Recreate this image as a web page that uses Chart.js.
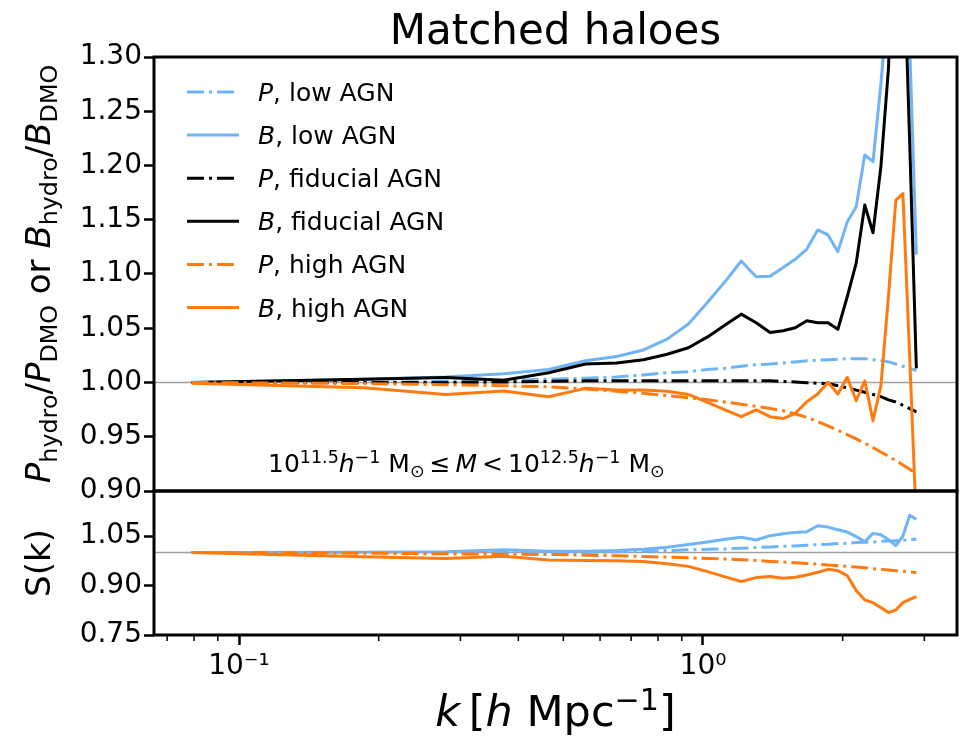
<!DOCTYPE html>
<html>
<head>
<meta charset="utf-8">
<script src="https://cdn.jsdelivr.net/npm/chart.js@4.4.1/dist/chart.umd.min.js"></script>
<style>
    html, body { margin: 0; padding: 0; background: #fff; }
</style>
</head>
<body>
<canvas id="haloChart" width="965" height="736"></canvas>
<script>
// k bins [h/Mpc]
const kValues = [0.079, 0.186, 0.279, 0.372, 0.465, 0.558, 0.651, 0.744, 0.837, 0.930,
    1.023, 1.116, 1.209, 1.302, 1.395, 1.488, 1.581, 1.674, 1.767, 1.860,
    1.953, 2.046, 2.139, 2.232, 2.325, 2.418, 2.511, 2.604, 2.697, 2.790, 2.883];

// top panel: hydro / DMO ratios
const pLow = [1.000, 1.000, 1.001, 1.002, 1.003, 1.004, 1.005, 1.007, 1.009, 1.010,
    1.012, 1.013, 1.015, 1.0165, 1.017, 1.018, 1.019, 1.020, 1.0205, 1.021,
    1.0215, 1.022, 1.022, 1.022, 1.021, 1.020, 1.019, 1.017, 1.015, 1.013, 1.011];
const bLow = [1.000, 1.003, 1.005, 1.008, 1.012, 1.020, 1.024, 1.030, 1.040, 1.054,
    1.074, 1.093, 1.112, 1.0975, 1.098, 1.106, 1.1135, 1.123, 1.1406, 1.136,
    1.1206, 1.148, 1.162, 1.2097, 1.2035, 1.275, 1.36, 1.60, 1.55, 1.31, 1.118];
const pFid = [1.000, 1.000, 1.000, 1.0005, 1.001, 1.0015, 1.0015, 1.0015, 1.0015, 1.0015,
    1.0015, 1.0015, 1.0015, 1.0015, 1.0015, 1.001, 1.0005, 0.9998, 0.9993, 0.999,
    0.997, 0.995, 0.993, 0.991, 0.989, 0.987, 0.984, 0.982, 0.979, 0.976, 0.973];
const bFid = [1.000, 1.003, 1.0045, 1.002, 1.009, 1.017, 1.018, 1.021, 1.026, 1.032,
    1.042, 1.053, 1.063, 1.055, 1.046, 1.0477, 1.0505, 1.057, 1.055, 1.055,
    1.049, 1.079, 1.110, 1.1636, 1.138, 1.199, 1.29, 1.50, 1.42, 1.22, 1.013];
const pHigh = [1.000, 0.999, 0.998, 0.997, 0.996, 0.994, 0.992, 0.990, 0.988, 0.986,
    0.984, 0.982, 0.980, 0.978, 0.976, 0.974, 0.971, 0.968, 0.964, 0.960,
    0.956, 0.952, 0.948, 0.944, 0.940, 0.936, 0.932, 0.928, 0.924, 0.920, 0.916];
const bHigh = [0.9993, 0.9952, 0.989, 0.9922, 0.9869, 0.9946, 0.993, 0.993, 0.992, 0.989,
    0.9816, 0.9748, 0.9685, 0.9747, 0.9685, 0.9668, 0.9716, 0.9823, 0.9894, 1.0002,
    0.9894, 1.0048, 0.9832, 1.0016, 0.9648, 0.997, 1.08, 1.168, 1.174, 1.022, 0.87];

// bottom panel: S(k)
const sPLow = [1.000, 1.000, 1.000, 1.000, 1.000, 1.000, 1.002, 1.005, 1.006, 1.008,
    1.010, 1.011, 1.013, 1.015, 1.017, 1.019, 1.020, 1.022, 1.024, 1.025,
    1.027, 1.028, 1.030, 1.031, 1.032, 1.034, 1.035, 1.036, 1.037, 1.039, 1.040];
const sBLow = [1.000, 1.001, 1.002, 1.008, 1.004, 1.004, 1.006, 1.010, 1.016, 1.024,
    1.032, 1.040, 1.046, 1.038, 1.051, 1.057, 1.061, 1.063, 1.081, 1.077,
    1.069, 1.062, 1.048, 1.033, 1.058, 1.054, 1.039, 1.021, 1.050, 1.113, 1.101];
const sPHigh = [1.000, 0.998, 0.996, 0.995, 0.994, 0.992, 0.990, 0.988, 0.986, 0.984,
    0.982, 0.980, 0.978, 0.976, 0.973, 0.971, 0.969, 0.967, 0.965, 0.962,
    0.960, 0.958, 0.956, 0.954, 0.951, 0.949, 0.947, 0.945, 0.943, 0.941, 0.939];
const sBHigh = [1.000, 0.987, 0.982, 0.989, 0.977, 0.976, 0.975, 0.973, 0.966, 0.958,
    0.942, 0.926, 0.912, 0.924, 0.927, 0.922, 0.925, 0.932, 0.940, 0.949,
    0.945, 0.930, 0.885, 0.856, 0.848, 0.833, 0.818, 0.826, 0.848, 0.858, 0.866];

// ticks
const xMajorTicks = [0.1, 1];
const xTickLabels = ['10\u207B\u00B9', '10\u2070'];
const xMinorTicks = [0.07, 0.08, 0.09, 0.2, 0.3, 0.4, 0.5, 0.6, 0.7, 0.8, 0.9, 2, 3];
const topTicks = [0.90, 0.95, 1.00, 1.05, 1.10, 1.15, 1.20, 1.25, 1.30];
const botTicks = [0.75, 0.90, 1.05];

const FONT = '"DejaVu Sans", sans-serif';
const BLUE = '#6fb4f6';
const ORANGE = '#ff7b0f';
const DASHDOT = [17, 5, 3, 5];

function pts(values) {
    return values.map((v, i) => ({ x: kValues[i], y: v }));
}

function line(label, values, color, dashed, axis, idx) {
    return {
        label: label,
        data: pts(values),
        yAxisID: axis,
        borderColor: color,
        backgroundColor: color,
        borderWidth: 3,
        borderDash: dashed ? DASHDOT : [],
        borderJoinStyle: 'round',
        pointRadius: 0,
        tension: 0,
        fill: false,
        order: -idx
    };
}

// text with italic / super / subscript parts: [text, italic, shift]
function partFont(p, size) {
    return (p[1] ? 'italic ' : '') + (p[2] ? size * 0.7 : size) + 'px ' + FONT;
}
function drawRich(ctx, parts, x, y, size, align) {
    let w = 0;
    parts.forEach(p => { ctx.font = partFont(p, size); w += ctx.measureText(p[0]).width; });
    let cx = align === 'center' ? x - w / 2 : x;
    ctx.textAlign = 'left';
    ctx.textBaseline = 'alphabetic';
    parts.forEach(p => {
        ctx.font = partFont(p, size);
        const dy = p[2] === 1 ? -size * 0.38 : (p[2] === -1 ? size * 0.2 : 0);
        ctx.fillText(p[0], cx, y + dy);
        cx += ctx.measureText(p[0]).width;
    });
}

const yLabelParts = [['P', 1, 0], ['hydro', 0, -1], ['/', 0, 0], ['P', 1, 0], ['DMO', 0, -1],
    [' or ', 0, 0], ['B', 1, 0], ['hydro', 0, -1], ['/', 0, 0], ['B', 1, 0], ['DMO', 0, -1]];
const xLabelParts = [['k', 1, 0], ['\u2009[', 0, 0], ['h', 1, 0], [' Mpc', 0, 0], ['\u22121', 0, 1], [']', 0, 0]];
const massParts = [['10', 0, 0], ['11.5', 0, 1], ['h', 1, 0], ['\u22121', 0, 1], [' M', 0, 0], ['\u2299', 0, -1],
    ['\u2009\u2264\u2009', 0, 0], ['M', 1, 0], ['\u2009<\u2009', 0, 0], ['10', 0, 0], ['12.5', 0, 1], ['h', 1, 0], ['\u22121', 0, 1],
    [' M', 0, 0], ['\u2299', 0, -1]];

const decorPlugin = {
    id: 'decor',
    beforeDatasetsDraw(chart) {
        const ctx = chart.ctx, a = chart.chartArea;
        ctx.save();
        ctx.strokeStyle = '#a0a0a0';
        ctx.lineWidth = 1.5;
        ['yTop', 'yBot'].forEach(id => {
            const y = chart.scales[id].getPixelForValue(1);
            ctx.beginPath();
            ctx.moveTo(a.left, y);
            ctx.lineTo(a.right, y);
            ctx.stroke();
        });
        ctx.restore();
    },
    beforeDatasetDraw(chart, args) {
        const sc = chart.scales[args.meta.yAxisID];
        const a = chart.chartArea;
        chart.ctx.save();
        chart.ctx.beginPath();
        chart.ctx.rect(a.left, sc.top, a.right - a.left, sc.bottom - sc.top);
        chart.ctx.clip();
    },
    afterDatasetDraw(chart) {
        chart.ctx.restore();
    },
    afterDraw(chart) {
        const ctx = chart.ctx, a = chart.chartArea;
        const top = chart.scales.yTop, bot = chart.scales.yBot, x = chart.scales.x;
        ctx.save();
        // title, centred over the plot area
        ctx.fillStyle = '#000';
        drawRich(ctx, [['Matched haloes', 0, 0]], (a.left + a.right) / 2, 44, 42, 'center');
        // panel frames
        ctx.strokeStyle = '#000';
        ctx.lineWidth = 3;
        ctx.strokeRect(a.left, top.top, a.right - a.left, top.bottom - top.top);
        ctx.strokeRect(a.left, bot.top, a.right - a.left, bot.bottom - bot.top);
        // minor x ticks
        ctx.lineWidth = 1.5;
        xMinorTicks.forEach(v => {
            const px = x.getPixelForValue(v);
            ctx.beginPath();
            ctx.moveTo(px, a.bottom);
            ctx.lineTo(px, a.bottom + 6);
            ctx.stroke();
        });
        // legend
        chart.data.datasets.filter(d => d.yAxisID === 'yTop').forEach((d, i) => {
            const cy = 92 + i * 43.1;
            ctx.strokeStyle = d.borderColor;
            ctx.lineWidth = 3;
            ctx.setLineDash(d.borderDash);
            ctx.beginPath();
            ctx.moveTo(187, cy);
            ctx.lineTo(239, cy);
            ctx.stroke();
            ctx.setLineDash([]);
            const parts = d.label.split(',');
            drawRich(ctx, [[parts[0], 1, 0], [',' + parts[1], 0, 0]], 258, cy + 9, 25, 'left');
        });
        // mass range annotation
        drawRich(ctx, massParts, 268, 472, 25, 'left');
        // x axis title
        drawRich(ctx, xLabelParts, (a.left + a.right) / 2, 726, 43, 'center');
        // y axis titles
        ctx.save();
        ctx.translate(50, (top.top + top.bottom) / 2);
        ctx.rotate(-Math.PI / 2);
        drawRich(ctx, yLabelParts, 0, 0, 34, 'center');
        ctx.restore();
        ctx.save();
        ctx.translate(50, (bot.top + bot.bottom) / 2);
        ctx.rotate(-Math.PI / 2);
        drawRich(ctx, [['S(k)', 0, 0]], 0, 0, 34, 'center');
        ctx.restore();
        ctx.restore();
    }
};

const tickFont = { family: FONT, size: 28 };
const yGrid = { drawOnChartArea: false, drawTicks: true, tickLength: 10, tickWidth: 2.5, tickColor: '#000' };

const ctx = document.getElementById('haloChart').getContext('2d');
const haloChart = new Chart(ctx, {
    type: 'line',
    data: {
        datasets: [
            line('P, low AGN', pLow, BLUE, true, 'yTop', 0),
            line('B, low AGN', bLow, BLUE, false, 'yTop', 1),
            line('P, fiducial AGN', pFid, '#000', true, 'yTop', 2),
            line('B, fiducial AGN', bFid, '#000', false, 'yTop', 3),
            line('P, high AGN', pHigh, ORANGE, true, 'yTop', 4),
            line('B, high AGN', bHigh, ORANGE, false, 'yTop', 5),
            line('S P low', sPLow, BLUE, true, 'yBot', 6),
            line('S B low', sBLow, BLUE, false, 'yBot', 7),
            line('S P high', sPHigh, ORANGE, true, 'yBot', 8),
            line('S B high', sBHigh, ORANGE, false, 'yBot', 9)
        ]
    },
    options: {
        responsive: false,
        animation: false,
        devicePixelRatio: 1,
        layout: { padding: { left: 0, right: 8, top: 57, bottom: 0 } },
        plugins: {
            legend: { display: false },
            tooltip: { enabled: false },
            title: { display: false }
        },
        scales: {
            x: {
                type: 'logarithmic',
                min: 0.065576,
                max: 3.5276,
                afterBuildTicks: s => { s.ticks = xMajorTicks.map(v => ({ value: v, major: true })); },
                afterFit: s => { s.height = 101; },
                ticks: {
                    callback: v => xTickLabels[xMajorTicks.indexOf(v)],
                    font: tickFont, color: '#000', padding: 5,
                    maxRotation: 0, autoSkip: false
                },
                grid: { drawOnChartArea: false, drawTicks: true, tickLength: 10, tickWidth: 2.5, tickColor: '#000' },
                border: { display: false }
            },
            yTop: {
                type: 'linear',
                position: 'left',
                stack: 'panels',
                stackWeight: 434,
                weight: 2,
                min: 0.9,
                max: 1.3,
                afterBuildTicks: s => { s.ticks = topTicks.map(v => ({ value: v })); },
                afterFit: s => { s.width = 154; },
                ticks: { callback: v => v.toFixed(2), font: tickFont, color: '#000', padding: 2, autoSkip: false },
                grid: yGrid,
                border: { display: false }
            },
            yBot: {
                type: 'linear',
                position: 'left',
                stack: 'panels',
                stackWeight: 144,
                weight: 1,
                min: 0.75,
                max: 1.1864,
                afterBuildTicks: s => { s.ticks = botTicks.map(v => ({ value: v })); },
                afterFit: s => { s.width = 154; },
                ticks: { callback: v => v.toFixed(2), font: tickFont, color: '#000', padding: 2, autoSkip: false },
                grid: yGrid,
                border: { display: false }
            }
        }
    },
    plugins: [decorPlugin]
});
</script>
</body>
</html>
